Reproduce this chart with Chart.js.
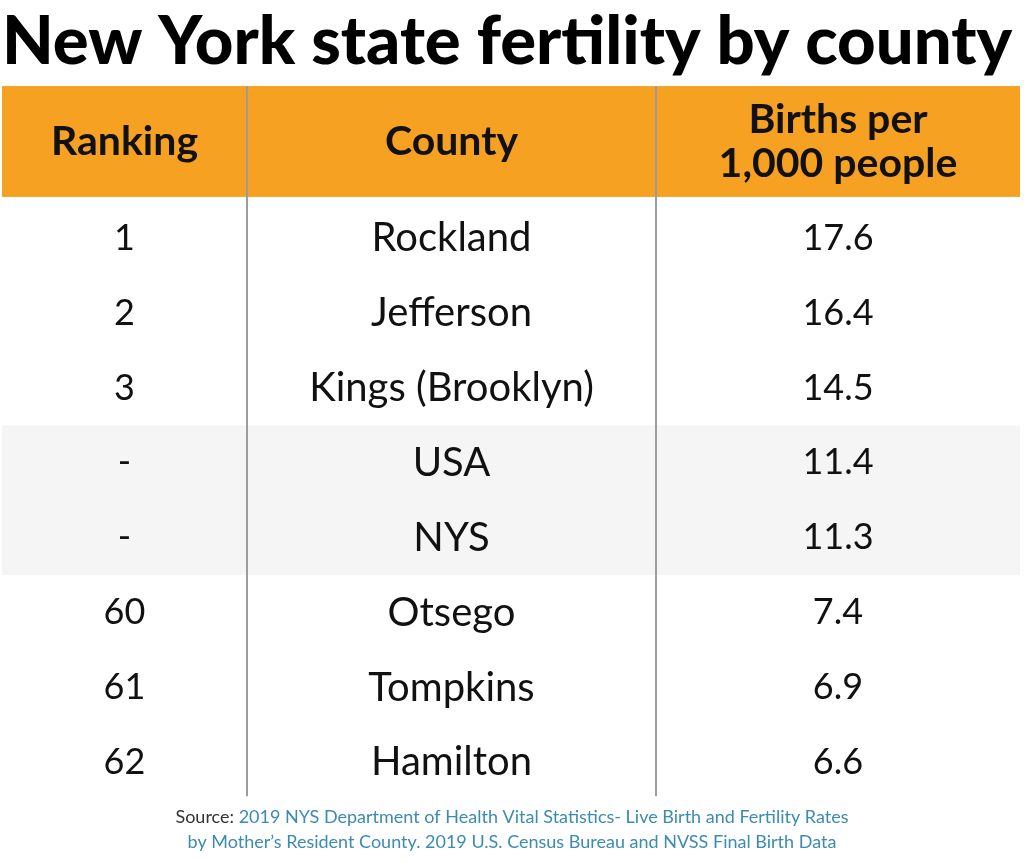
<!DOCTYPE html>
<html>
<head>
<meta charset="utf-8">
<script src="https://cdn.jsdelivr.net/npm/chart.js@4"></script>
<style>
  html, body { margin: 0; padding: 0; background: #fff; }
  #wrap { width: 1024px; height: 863px; }
</style>
</head>
<body>
<div id="wrap"><canvas id="fertChart"></canvas></div>
<script>
'use strict';

/* ---- data ---- */
const rankings = ['1', '2', '3', '-', '-', '60', '61', '62'];
const counties = ['Rockland', 'Jefferson', 'Kings (Brooklyn)', 'USA', 'NYS', 'Otsego', 'Tompkins', 'Hamilton'];
const births   = [17.6, 16.4, 14.5, 11.4, 11.3, 7.4, 6.9, 6.6];
const headers  = ['Ranking', 'County', ['Births per', '1,000 people']];
const highlightRows = [3, 4]; // USA + NYS reference rows

/* ---- layout ---- */
const COL_EDGES = [0, 245, 654, 1018];   // x-scale units (1 unit = 1px)
const HEADER_TOP = -2.03;                // y-scale units (1 unit = 1 row)
const ORANGE = '#f7a123';
const BODY_FONT = 'Lato, "Open Sans", sans-serif';
const CELL_SIZES = [36, 40, 36];         // font px per column

const colCenter = i => (COL_EDGES[i] + COL_EDGES[i + 1]) / 2;

function cellData(values) {
  return values.map((v, i) => ({ x: 0, y: i, v }));
}

const tablePlugin = {
  id: 'tablePlugin',
  beforeDatasetsDraw(chart) {
    const { ctx, scales: { x, y } } = chart;
    ctx.save();
    // highlighted band
    const bTop = y.getPixelForValue(highlightRows[0] - 0.5);
    const bBot = y.getPixelForValue(highlightRows[highlightRows.length - 1] + 0.5);
    ctx.fillStyle = '#f5f5f5';
    ctx.fillRect(x.getPixelForValue(COL_EDGES[0]), bTop,
      x.getPixelForValue(COL_EDGES[3]) - x.getPixelForValue(COL_EDGES[0]), bBot - bTop);

    // header band
    const hTop = y.getPixelForValue(HEADER_TOP);
    const hBot = y.getPixelForValue(-0.55);
    ctx.fillStyle = ORANGE;
    ctx.fillRect(x.getPixelForValue(COL_EDGES[0]), hTop,
      x.getPixelForValue(COL_EDGES[3]) - x.getPixelForValue(COL_EDGES[0]), hBot - hTop);

    // column dividers
    ctx.strokeStyle = '#9c9c9c';
    ctx.lineWidth = 2;
    [1, 2].forEach(c => {
      const px = Math.round(x.getPixelForValue(COL_EDGES[c]));
      ctx.beginPath();
      ctx.moveTo(px, hTop);
      ctx.lineTo(px, y.getPixelForValue(rankings.length - 0.55));
      ctx.stroke();
    });

    // header text
    ctx.fillStyle = '#111';
    ctx.font = `bold 41px ${BODY_FONT}`;
    ctx.textAlign = 'center';
    ctx.textBaseline = 'middle';
    const hMid = (hTop + hBot) / 2;
    headers.forEach((h, i) => {
      const px = x.getPixelForValue(colCenter(i));
      if (Array.isArray(h)) {
        ctx.fillText(h[0], px, hMid - 22);
        ctx.fillText(h[1], px, hMid + 22);
      } else {
        ctx.fillText(h, px, hMid);
      }
    });
    ctx.restore();
  },
  afterDatasetsDraw(chart) {
    const { ctx } = chart;
    ctx.save();
    ctx.fillStyle = '#111';
    ctx.textAlign = 'center';
    ctx.textBaseline = 'middle';
    chart.data.datasets.forEach((ds, di) => {
      ctx.font = `${CELL_SIZES[di]}px ${BODY_FONT}`;
      chart.getDatasetMeta(di).data.forEach((pt, i) => {
        const v = ds.data[i].v;
        const txt = typeof v === 'number' ? v.toFixed(1) : v;
        ctx.fillText(txt, pt.x, pt.y);
      });
    });

    // source note
    const cx = chart.width / 2;
    ctx.font = `18px ${BODY_FONT}`;
    ctx.textAlign = 'left';
    const pre = 'Source: ';
    const l1 = '2019 NYS Department of Health Vital Statistics- Live Birth and Fertility Rates';
    const l2 = 'by Mother\u2019s Resident County. 2019 U.S. Census Bureau and NVSS Final Birth Data';
    const w1 = ctx.measureText(pre + l1).width;
    const sx = cx - w1 / 2;
    ctx.fillStyle = '#333';
    ctx.fillText(pre, sx, 817);
    ctx.fillStyle = '#3b8bb3';
    ctx.fillText(l1, sx + ctx.measureText(pre).width, 817);
    ctx.textAlign = 'center';
    ctx.fillText(l2, cx, 842);
    ctx.restore();
  }
};

const colDataset = (values, col) => ({
  label: headers[col].toString(),
  data: cellData(values).map(d => ({ ...d, x: colCenter(col) })),
  pointRadius: 0,
  showLine: false
});

new Chart(document.getElementById('fertChart'), {
  type: 'scatter',
  data: {
    datasets: [
      colDataset(rankings, 0),
      colDataset(counties, 1),
      colDataset(births, 2)
    ]
  },
  options: {
    responsive: true,
    maintainAspectRatio: false,
    animation: false,
    layout: { padding: { left: 2, right: 4, top: 0, bottom: 63 } },
    plugins: {
      legend: { display: false },
      tooltip: { enabled: false },
      title: {
        display: true,
        text: 'New York state fertility by county',
        align: 'start',
        color: '#000',
        font: { family: BODY_FONT, size: 67, weight: '900', lineHeight: 1.15 },
        padding: { top: 4, bottom: 5 }
      }
    },
    scales: {
      x: { type: 'linear', display: false, min: COL_EDGES[0], max: COL_EDGES[3] },
      y: { type: 'linear', display: false, reverse: true, min: HEADER_TOP, max: rankings.length - 0.5 }
    }
  },
  plugins: [tablePlugin]
});
</script>
</body>
</html>
